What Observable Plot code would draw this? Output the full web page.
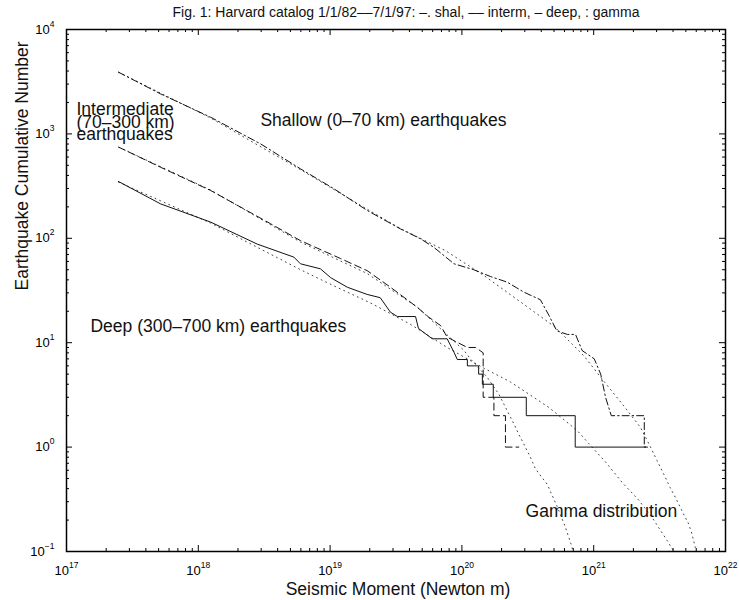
<!DOCTYPE html>
<html><head><meta charset="utf-8">
<script src="https://cdn.jsdelivr.net/npm/d3@7"></script>
<script src="https://cdn.jsdelivr.net/npm/@observablehq/plot@0.6"></script>
<style>body{margin:0;background:#fff} svg{display:block}</style>
</head><body><div id="chart"></div>
<script>
// Shallow (0-70 km), dash-dot
const shallowM = [2.48e17, 5.16e17, 1.24e18, 2.96e18, 5.96e18, 1.07e19, 1.91e19, 3.42e19, 4.85e19, 6.12e19, 8.71e19, 1.23e20, 1.65e20, 2.21e20, 2.95e20, 3.94e20, 4.57e20, 5.25e20, 6.31e20, 7.28e20, 8.18e20, 1.01e21, 1.13e21, 1.23e21, 1.36e21, 2.42e21, 2.42e21, 2.56e21];
const shallowN = [3900, 2420, 1445, 804, 463, 298, 185, 123, 99, 82, 57, 50, 43, 38, 30.5, 25.8, 18.3, 13, 12, 12, 8.4, 7, 5, 3, 2, 2, 1, 1];
// Intermediate (70-300 km), dashed
const intermM = [2.49e17, 5.16e17, 1.24e18, 3.53e18, 5.96e18, 1.2e19, 1.91e19, 2.87e19, 4.57e19, 5.62e19, 6.89e19, 7.73e19, 1.10e20, 1.27e20, 1.45e20, 1.45e20, 1.75e20, 1.75e20, 2.14e20, 2.14e20, 2.70e20];
const intermN = [746, 480, 287, 138, 95, 64, 49, 34, 21.9, 17.5, 14.6, 11.3, 9, 9, 8, 3, 3, 2, 2, 1, 1];
// Deep (300-700 km), solid
const deepM = [2.48e17, 5.16e17, 1.24e18, 2.80e18, 5.31e18, 5.96e18, 8.45e18, 1.01e19, 1.35e19, 1.91e19, 2.40e19, 2.87e19, 3.24e19, 4.45e19, 4.68e19, 5.96e19, 7.73e19, 8.71e19, 9.23e19, 1.10e20, 1.10e20, 1.34e20, 1.34e20, 1.43e20, 1.43e20, 1.73e20, 1.73e20, 3.08e20, 3.08e20, 7.24e20, 7.24e20, 2.56e21];
const deepN = [350, 214, 143, 88, 66, 57, 51, 42, 34, 29, 27, 19.6, 17.8, 17.8, 13.7, 10.9, 10.9, 8.1, 6.9, 6.9, 6, 6, 5, 5, 4, 4, 3, 3, 2, 2, 1, 1];
// Gamma distribution fits, dotted
const gamShalM = [2.48e17, 1.24e18, 5.96e18, 1.91e19, 3.42e19, 7.52e19, 1.47e20, 3.04e20, 5.13e20, 8.41e20, 1.19e21, 1.64e21, 2.26e21, 2.62e21, 3.02e21, 3.39e21, 3.80e21, 4.27e21, 4.79e21, 5.25e21, 5.56e21, 5.89e21, 6.03e21];
const gamShalN = [3900, 1420, 455, 190, 124, 76, 44, 22.7, 14, 7.5, 4.3, 2.6, 1.55, 1.08, 0.745, 0.555, 0.41, 0.31, 0.23, 0.184, 0.148, 0.11, 0.1];
const gamDeepM = [2.48e17, 1.24e18, 5.96e18, 1.07e19, 2.03e19, 4.07e19, 7.73e19, 1.47e20, 2.34e20, 4.57e20, 7.5e20, 9.18e20, 1.23e21, 1.64e21, 2.20e21, 2.86e21, 3.61e21, 4.06e21];
const gamDeepN = [345, 140, 50, 35, 24, 15, 9, 5.7, 4.2, 2.4, 1.44, 1.08, 0.72, 0.46, 0.31, 0.2, 0.127, 0.1];
const gamIntM = [2.49e17, 1.24e18, 5.96e18, 1.91e19, 4.57e19, 1.04e20, 1.16e20, 1.55e20, 1.91e20, 2.27e20, 2.48e20, 2.69e20, 2.95e20, 3.31e20, 3.61e20, 4.44e20, 5.28e20, 6.11e20, 6.85e20, 6.95e20];
const gamIntN = [746, 290, 92, 46, 22, 8.4, 7, 4.7, 3.2, 2.08, 1.67, 1.34, 1.07, 0.8, 0.62, 0.44, 0.27, 0.17, 0.11, 0.1];

// Axis decades and mantissas for tick marks
const xDecades = [17, 18, 19, 20, 21, 22];
const yDecades = [-1, 0, 1, 2, 3, 4];
const mantissas = [2, 3, 4, 5, 6, 7, 8, 9];

const rows = (M, N) => M.map((m, i) => ({m, n: N[i]}));
const major = ds => ds.map(e => Math.pow(10, e));
const minor = ds => ds.slice(0, -1).flatMap(e => mantissas.map(k => k * Math.pow(10, e)));
const fmt = d => { const e = Math.round(Math.log10(d)); return "10^" + (e < 0 ? "\u2212" + (-e) : e); };

const W = 739, H = 600, mL = 66, mR = 14, mT = 29, mB = 49;
const fw = W - mL - mR, fh = H - mT - mB;
const F = "Liberation Sans, Arial, Helvetica, sans-serif";
const lineOpts = {x: "m", y: "n", stroke: "#111", strokeWidth: 1, clip: true};
const tx = (data, len, side) => Plot.tickX(data, {x: d => d, stroke: "#000", strokeWidth: 1, ...(side === "bottom" ? {insetTop: fh - len} : {insetBottom: fh - len})});
const ty = (data, len, side) => Plot.tickY(data, {y: d => d, stroke: "#000", strokeWidth: 1, ...(side === "left" ? {insetRight: fw - len} : {insetLeft: fw - len})});

const chart = Plot.plot({
  width: W, height: H,
  marginLeft: mL, marginRight: mR, marginTop: mT, marginBottom: mB,
  style: {fontFamily: F, background: "#fff", color: "#000"},
  x: {type: "log", domain: [1e17, 1e22]},
  y: {type: "log", domain: [1e-1, 1e4]},
  marks: [
    Plot.line(rows(gamShalM, gamShalN), {...lineOpts, stroke: "#444", strokeDasharray: "1,4"}),
    Plot.line(rows(gamDeepM, gamDeepN), {...lineOpts, stroke: "#444", strokeDasharray: "1,4"}),
    Plot.line(rows(gamIntM, gamIntN), {...lineOpts, stroke: "#444", strokeDasharray: "1,4"}),
    Plot.line(rows(shallowM, shallowN), {...lineOpts, strokeDasharray: "7,3,1.5,3"}),
    Plot.line(rows(intermM, intermN), {...lineOpts, strokeDasharray: "7,4"}),
    Plot.line(rows(deepM, deepN), {...lineOpts}),
    // inward ticks on all four sides
    tx(minor(xDecades), 3, "bottom"), tx(major(xDecades), 6, "bottom"),
    tx(minor(xDecades), 3, "top"), tx(major(xDecades), 6, "top"),
    ty(minor(yDecades), 3, "left"), ty(major(yDecades), 6, "left"),
    ty(minor(yDecades), 3, "right"), ty(major(yDecades), 6, "right"),
    Plot.axisX(major(xDecades), {anchor: "bottom", tickSize: 0, tickPadding: 14, tickFormat: fmt, fontSize: 13, label: null}),
    Plot.axisY(major(yDecades), {anchor: "left", tickSize: 0, tickPadding: 12, tickFormat: fmt, fontSize: 13, label: null}),
    Plot.frame({stroke: "#000", strokeWidth: 1.5}),
    // annotations
    Plot.text(["Intermediate\n(70\u2013300 km)\nearthquakes"], {x: 1.19e17, y: 865, textAnchor: "start", lineAnchor: "bottom", lineHeight: 0.74, fontSize: 17.5, fill: "#111"}),
    Plot.text(["Shallow (0\u201370 km) earthquakes"], {x: 2.96e18, y: 1178, textAnchor: "start", lineAnchor: "bottom", fontSize: 17.5, fill: "#111"}),
    Plot.text(["Deep (300\u2013700 km) earthquakes"], {x: 1.52e17, y: 12.6, textAnchor: "start", lineAnchor: "bottom", fontSize: 17.5, fill: "#111"}),
    Plot.text(["Gamma distribution"], {x: 3.04e20, y: 0.213, textAnchor: "start", lineAnchor: "bottom", fontSize: 17.5, fill: "#111"}),
    // title and axis labels
    Plot.text(["Fig. 1: Harvard catalog 1/1/82\u2013\u20137/1/97: \u2013. shal, \u2013\u2013 interm, \u2013 deep, : gamma"], {frameAnchor: "top", dx: 10, dy: -13, lineAnchor: "bottom", fontSize: 14, fill: "#111"}),
    Plot.text(["Seismic Moment (Newton m)"], {frameAnchor: "bottom", dx: 2, dy: 43, lineAnchor: "bottom", fontSize: 17.5, fill: "#111"}),
    Plot.text(["Earthquake Cumulative Number"], {frameAnchor: "left", dx: -39, rotate: -90, lineAnchor: "bottom", fontSize: 17.5, fill: "#111"})
  ]
});

// superscript exponents on tick labels
d3.select(chart).selectAll('g[aria-label="x-axis tick label"] text, g[aria-label="y-axis tick label"] text').each(function () {
  const parts = this.textContent.split("^");
  if (parts.length < 2) return;
  this.textContent = "";
  const s = d3.select(this);
  s.append("tspan").text(parts[0]);
  s.append("tspan").attr("dy", -7).attr("font-size", 8.5).text(parts[1]);
});

document.getElementById("chart").appendChild(chart);
</script>
</body></html>
